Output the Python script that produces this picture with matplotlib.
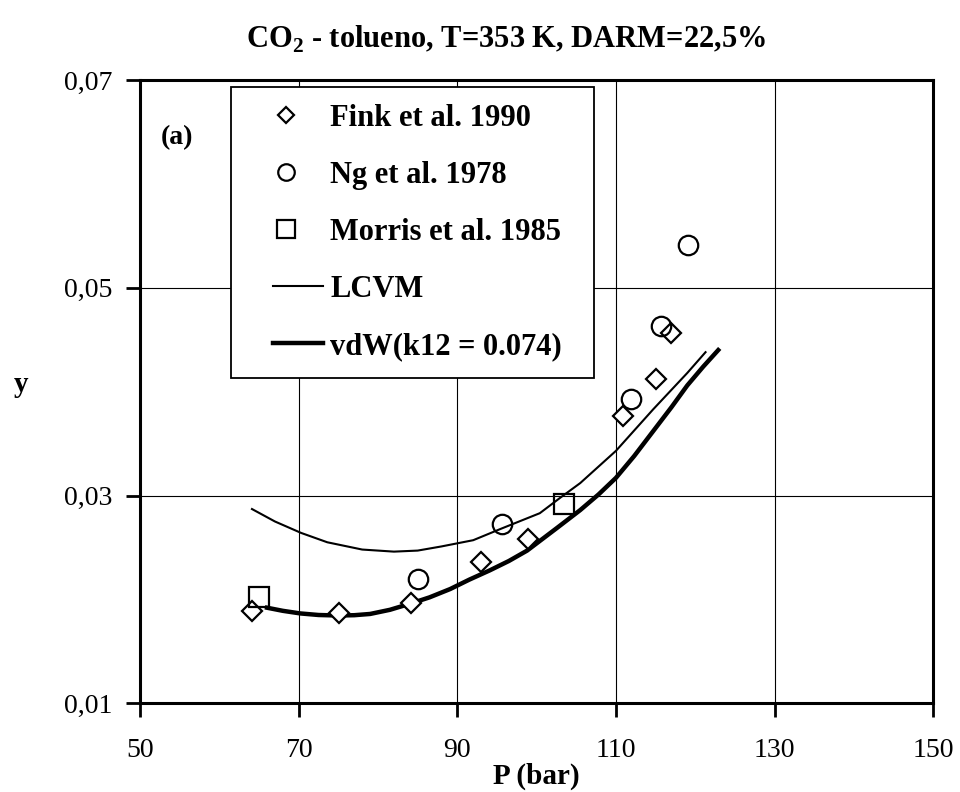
import numpy as np
import matplotlib
matplotlib.use("Agg")
import matplotlib.pyplot as plt
from matplotlib.legend_handler import HandlerLine2D

plt.rcParams['font.family'] = ['Liberation Serif', 'DejaVu Serif']
plt.rcParams['mathtext.fontset'] = 'custom'
plt.rcParams['mathtext.bf'] = 'Liberation Serif:bold'
plt.rcParams['mathtext.rm'] = 'Liberation Serif:bold'

# experimental data
fink_p = [64.1, 75.1, 84.2, 93.0, 98.9, 110.9, 115.1, 117.0]
fink_y = [0.0189, 0.01865, 0.0197, 0.0236, 0.0258, 0.0377, 0.0412, 0.0456]
ng_p = [85.1, 95.6, 111.9, 115.7, 119.1]
ng_y = [0.0220, 0.0273, 0.0393, 0.0463, 0.0541]
morris_p = [65.0, 103.5]
morris_y = [0.0202, 0.0292]

# model curves
lcvm_p = [64.1, 67, 70.3, 73.6, 78, 82, 85, 88, 92, 95.5, 100.4, 103, 105.5, 110, 114.7, 119, 121.3]
lcvm_y = [0.0287, 0.0275, 0.0264, 0.0255, 0.0248, 0.0246, 0.0247, 0.0251, 0.0257, 0.0268,
          0.0283, 0.0298, 0.0312, 0.0343, 0.0383, 0.0418, 0.0438]
vdw_p = [66, 68, 70.2, 72.5, 75, 77, 79, 81.5, 84.1, 86.5, 89.1, 91.5, 94.1, 96.5, 98.8,
         100.7, 102.6, 105.5, 107.8, 110, 112.3, 114.7, 117, 119, 121, 122.9]
vdw_y = [0.0192, 0.0189, 0.01865, 0.0185, 0.01845, 0.01848, 0.0186, 0.0190, 0.0196, 0.0202,
         0.0210, 0.0219, 0.0228, 0.0237, 0.0247, 0.0258, 0.0269, 0.0286, 0.0301, 0.0317,
         0.0338, 0.0362, 0.0385, 0.0406, 0.0424, 0.0440]

x_ticks = [50, 70, 90, 110, 130, 150]
y_ticks = [0.01, 0.03, 0.05, 0.07]
y_labels = ["0,01", "0,03", "0,05", "0,07"]

fig = plt.figure(figsize=(9.6, 7.92), dpi=100)
ax = fig.add_axes([0.146, 0.112, 0.826, 0.787])

ax.plot(fink_p, fink_y, 'D', ms=10, mfc='white', mec='black', mew=1.6, label='Fink et al. 1990', zorder=4)
ax.plot(ng_p, ng_y, 'o', ms=14, mfc='none', mec='black', mew=1.6, label='Ng et al. 1978', zorder=4)
ax.plot(morris_p, morris_y, 's', ms=14.5, mfc='none', mec='black', mew=1.6, label='Morris et al. 1985', zorder=4)
lcvm_line, = ax.plot(lcvm_p, lcvm_y, '-', color='black', lw=1.5, label='LCVM', zorder=3)
vdw_line, = ax.plot(vdw_p, vdw_y, '-', color='black', lw=3.2, label='vdW(k12 = 0.074)', zorder=3)

ax.set_xlim(50, 150)
ax.set_ylim(0.01, 0.07)
ax.set_xticks(x_ticks)
ax.set_yticks(y_ticks)
ax.set_yticklabels(y_labels)
ax.tick_params(labelsize=20, direction='out', length=10, width=2)
ax.tick_params(axis='x', pad=15)
ax.tick_params(axis='y', pad=10)
ax.grid(True, color='black', lw=0.8)
for s in ax.spines.values():
    s.set_linewidth(2.2)

ax.set_xlabel("P (bar)", fontsize=21, fontweight='bold', labelpad=0)
ax.set_ylabel("y", fontsize=21, fontweight='bold', rotation=0, labelpad=0)
ax.yaxis.set_label_coords(-0.15, 0.49)

ax.text(0.047, 0.908, "(a)", transform=ax.transAxes, fontsize=20, fontweight='bold',
        ha='center', va='center')

fig.text(0.527, 0.95, r"CO$_\mathbf{2}$ - tolueno, T=353 K, DARM=22,5%", fontsize=22,
         fontweight='bold', ha='center', va='center')

# line handles start further right than the marker handles
line_handler = HandlerLine2D(xpad=0.82)
leg = ax.legend(loc='upper left', bbox_to_anchor=(0.115, 0.535, 0.457, 0.454), mode='expand',
                prop={'weight': 'bold', 'size': 22}, frameon=True, fancybox=False,
                edgecolor='black', framealpha=1, handlelength=2.45, handletextpad=0.23,
                labelspacing=0.92, borderpad=0.55, markerscale=0.85, borderaxespad=0,
                handler_map={lcvm_line: line_handler, vdw_line: line_handler})
leg.get_frame().set_linewidth(1.3)

fig.savefig("out.png", dpi=100)
